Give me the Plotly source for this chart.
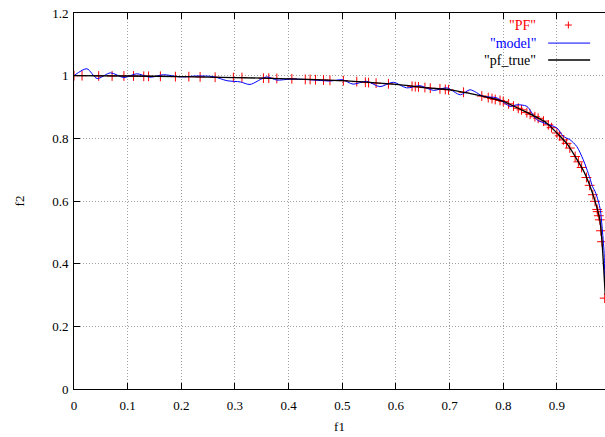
import plotly.graph_objects as go

# ---- data ----
pf_f1 = [0.0, 0.015, 0.046, 0.071, 0.093, 0.111, 0.13, 0.139, 0.161, 0.189, 0.214, 0.235,
         0.263, 0.297, 0.313, 0.353, 0.363, 0.378, 0.406, 0.431, 0.44, 0.45, 0.465, 0.477,
         0.502, 0.527, 0.543, 0.549, 0.563, 0.586, 0.63, 0.636, 0.642, 0.654, 0.664, 0.682,
         0.692, 0.698, 0.726, 0.76, 0.772, 0.779, 0.785, 0.794, 0.8, 0.81, 0.819, 0.828,
         0.834, 0.844, 0.85, 0.859, 0.865, 0.875, 0.884, 0.89, 0.9, 0.905, 0.912, 0.918,
         0.924, 0.934, 0.94, 0.946, 0.955, 0.961, 0.967, 0.971, 0.975, 0.976, 0.978, 0.98,
         0.982, 0.984, 0.989]
pf_f2 = [1.0, 1.0, 0.999, 0.999, 0.999, 0.999, 0.998, 0.998, 0.998, 0.997, 0.997, 0.996,
         0.995, 0.994, 0.994, 0.992, 0.992, 0.991, 0.99, 0.988, 0.988, 0.987, 0.986, 0.985,
         0.984, 0.981, 0.979, 0.978, 0.976, 0.974, 0.966, 0.965, 0.964, 0.962, 0.96, 0.958,
         0.956, 0.955, 0.947, 0.935, 0.93, 0.927, 0.924, 0.921, 0.918, 0.91, 0.903, 0.896,
         0.891, 0.882, 0.877, 0.869, 0.864, 0.855, 0.843, 0.834, 0.817, 0.808, 0.795, 0.784,
         0.769, 0.742, 0.725, 0.707, 0.675, 0.65, 0.62, 0.599, 0.573, 0.566, 0.553, 0.54,
         0.505, 0.47, 0.29]

model_f1 = [0.0, 0.024, 0.043, 0.068, 0.093, 0.117, 0.142, 0.167, 0.198, 0.23, 0.26, 0.285,
            0.31, 0.328, 0.359, 0.378, 0.403, 0.44, 0.478, 0.5, 0.52, 0.545, 0.57, 0.595,
            0.62, 0.645, 0.67, 0.695, 0.72, 0.738, 0.763, 0.788, 0.813, 0.825, 0.844, 0.862,
            0.881, 0.9, 0.912, 0.924, 0.937, 0.949, 0.955, 0.962, 0.966, 0.971, 0.977, 0.981,
            0.984, 0.988, 0.989]
model_f2 = [1.0, 1.022, 0.991, 1.009, 0.994, 1.006, 0.995, 1.003, 0.996, 0.999, 0.997, 0.984,
            0.98, 0.972, 0.996, 0.986, 0.989, 0.987, 0.983, 0.987, 0.973, 0.982, 0.965, 0.979,
            0.961, 0.968, 0.953, 0.961, 0.939, 0.955, 0.934, 0.929, 0.902, 0.907, 0.902, 0.86,
            0.846, 0.833, 0.806, 0.796, 0.774, 0.732, 0.705, 0.67, 0.647, 0.631, 0.6, 0.57,
            0.52, 0.433, 0.35]

true_f1 = [0.0, 0.1, 0.2, 0.3, 0.4, 0.5, 0.6, 0.66, 0.7, 0.75, 0.8, 0.84, 0.88, 0.9, 0.92,
           0.94, 0.95, 0.96, 0.97, 0.98, 0.984, 0.987, 0.99]
true_f2 = [1.0, 0.999, 0.997, 0.994, 0.99, 0.984, 0.972, 0.961, 0.955, 0.939, 0.918, 0.886,
           0.85, 0.817, 0.78, 0.725, 0.695, 0.655, 0.605, 0.54, 0.47, 0.39, 0.3]

x_ticks = [0, 0.1, 0.2, 0.3, 0.4, 0.5, 0.6, 0.7, 0.8, 0.9]
x_tick_labels = ["0", "0.1", "0.2", "0.3", "0.4", "0.5", "0.6", "0.7", "0.8", "0.9"]
y_ticks = [0, 0.2, 0.4, 0.6, 0.8, 1.0, 1.2]
y_tick_labels = ["0", "0.2", "0.4", "0.6", "0.8", "1", "1.2"]

series_names = ['"PF"', '"model"', '"pf_true"']
series_colors = ["#ff0000", "#0000ff", "#000000"]

FONT = "Liberation Serif, serif"

fig = go.Figure()
fig.add_trace(go.Scatter(x=pf_f1, y=pf_f2, mode="markers", showlegend=False,
                         marker=dict(symbol="cross-thin", size=7,
                                     line=dict(color=series_colors[0], width=1))))
fig.add_trace(go.Scatter(x=model_f1, y=model_f2, mode="lines", showlegend=False,
                         line=dict(color=series_colors[1], width=1, shape="spline", smoothing=0.8)))
fig.add_trace(go.Scatter(x=true_f1, y=true_f2, mode="lines", showlegend=False,
                         line=dict(color=series_colors[2], width=1.3, shape="spline", smoothing=0.6)))

axis_common = dict(showgrid=True, gridcolor="#a0a0a0", griddash="1px,2px", gridwidth=1,
                   zeroline=False, showline=True, linecolor="black", linewidth=1,
                   ticks="inside", ticklen=6, tickcolor="black", automargin=False,
                   ticklabeloverflow="allow",
                   tickfont=dict(family=FONT, size=13, color="black"))

fig.update_layout(
    width=605, height=437,
    margin=dict(l=73.6, r=0, t=13, b=47.7, pad=0),
    paper_bgcolor="white", plot_bgcolor="white",
    font=dict(family=FONT, size=13, color="black"),
    xaxis=dict(range=[0, 0.9896], tickvals=x_ticks, ticktext=x_tick_labels,
               mirror="ticks", ticklabelstandoff=4,
               title=dict(text="f1", font=dict(family=FONT, size=13), standoff=10),
               **axis_common),
    yaxis=dict(range=[0, 1.2], tickvals=y_ticks, ticktext=y_tick_labels,
               mirror=False, ticklabelstandoff=2,
               title=dict(text="f2", font=dict(family=FONT, size=13), standoff=24),
               **axis_common),
)

# gnuplot-style key: text right-justified, sample to the right
key_y = [0.968, 0.92, 0.875]
for name, col, yy in zip(series_names, series_colors, key_y):
    fig.add_annotation(xref="paper", yref="paper", x=0.874, y=yy, text=name,
                       showarrow=False, xanchor="right", yanchor="middle",
                       font=dict(family=FONT, size=14, color=col))
# PF sample: plus sign
fig.add_shape(type="line", xref="paper", yref="paper", x0=0.931 - 0.0066, x1=0.931 + 0.0066,
              y0=key_y[0], y1=key_y[0], line=dict(color=series_colors[0], width=1))
fig.add_shape(type="line", xref="paper", yref="paper", x0=0.931, x1=0.931,
              y0=key_y[0] - 0.0093, y1=key_y[0] + 0.0093, line=dict(color=series_colors[0], width=1))
# line samples
for col, yy, w in zip(series_colors[1:], key_y[1:], [1, 1.3]):
    fig.add_shape(type="line", xref="paper", yref="paper", x0=0.893, x1=0.972,
                  y0=yy, y1=yy, line=dict(color=col, width=w))

fig.write_html(
    "out.html",
    config={"displayModeBar": False},
    post_script="document.body.style.margin='0';document.body.style.overflow='hidden';",
)
